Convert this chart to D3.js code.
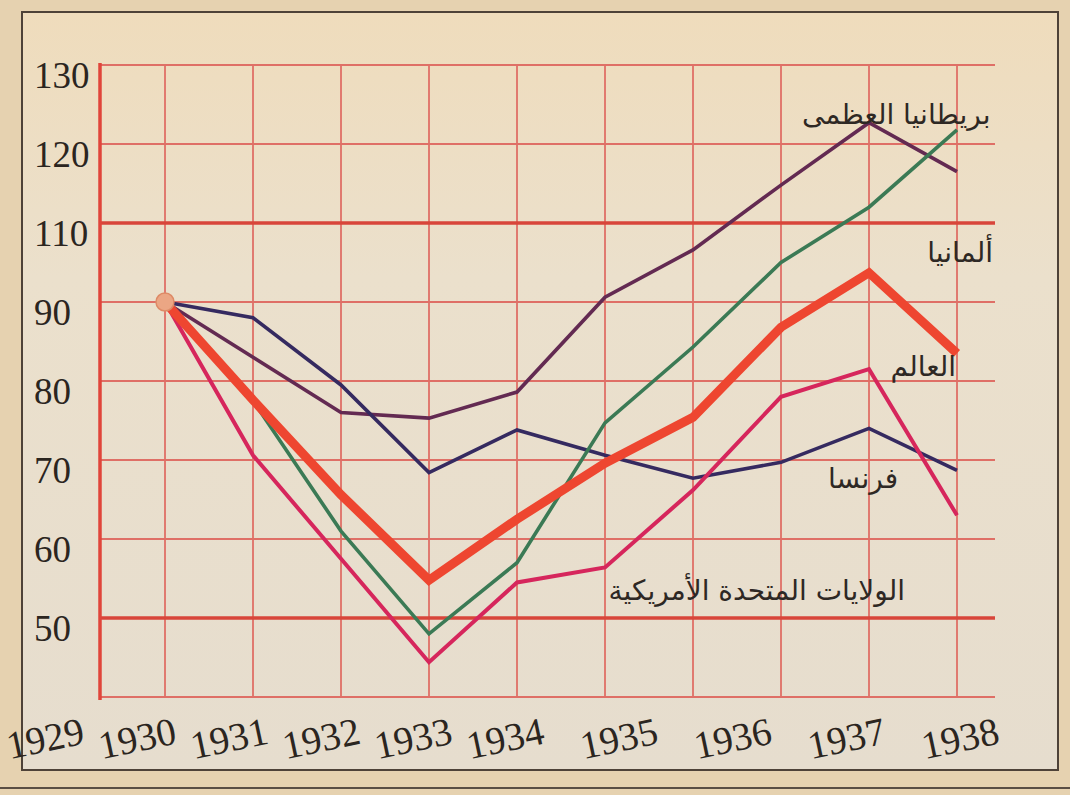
<!DOCTYPE html>
<html>
<head>
<meta charset="utf-8">
<script src="https://cdn.jsdelivr.net/npm/d3@7"></script>
<style>
  html, body { margin: 0; padding: 0; background: #d9c3a0; }
  svg { display: block; }
</style>
</head>
<body>
<div id="chart"></div>
<script>
// industrial production index, 1929 = 100
var years = [1929, 1930, 1931, 1932, 1933, 1934, 1935, 1936, 1937, 1938];
var greatBritain = [100, 93, 86, 85.3, 88.6, 100.6, 106.6, 114.8, 122.7, 116.5];
var france = [100, 98, 89.5, 78.4, 83.8, 80.6, 77.7, 79.7, 84, 78.7];
var germany = [100, 87.5, 71, 58, 67, 84.7, 94.3, 105, 112, 121.8];
var world = [100, 87.6, 75.6, 64.8, 72.5, 79.6, 85.4, 96.8, 103.7, 93.5];
var usa = [100, 80.6, 67.5, 54.4, 64.5, 66.4, 76.2, 88, 91.5, 73];

// y gridlines and the labels printed next to them (the book skips "100")
var gridValues = [130, 120, 110, 100, 90, 80, 70, 60];
var gridLabels = ['130', '120', '110', '90', '80', '70', '60', '50'];
var thickValues = [110, 60];

var seriesNames = ['بريطانيا العظمى', 'فرنسا', 'ألمانيا', 'الولايات المتحدة الأمريكية', 'العالم'];

var width = 1070, height = 795;

var svg = d3.select('#chart').append('svg')
    .attr('width', width)
    .attr('height', height);

// paper
var grad = svg.append('defs').append('linearGradient')
    .attr('id', 'paper').attr('x1', 0).attr('y1', 0).attr('x2', 0).attr('y2', 1);
grad.append('stop').attr('offset', '0%').attr('stop-color', '#efdcbc');
grad.append('stop').attr('offset', '35%').attr('stop-color', '#ebe0cc');
grad.append('stop').attr('offset', '100%').attr('stop-color', '#e6ddce');

svg.append('rect').attr('width', width).attr('height', height).attr('fill', '#e6d2b0');
svg.append('rect')
    .attr('x', 22).attr('y', 12).attr('width', 1036).attr('height', 758)
    .attr('fill', 'url(#paper)')
    .attr('stroke', '#4e4238').attr('stroke-width', 2);
svg.append('line')
    .attr('x1', 0).attr('x2', width).attr('y1', 788).attr('y2', 788)
    .attr('stroke', '#5a4e44').attr('stroke-width', 2);

// scales
var x = d3.scaleLinear().domain([1929, 1938]).range([165, 957]);
var y = d3.scaleLinear().domain([50, 130]).range([697, 65]);
var plotLeft = 100, plotRight = 995;

// tick labels under the axis are spread unevenly in the print
var xLabel = d3.scaleLinear().domain([1929, 1934, 1938]).range([45, 505, 960]);

var grid = svg.append('g');

grid.selectAll('.vgrid')
    .data(years)
  .enter().append('line')
    .attr('class', 'vgrid')
    .attr('x1', function(d) { return x(d); })
    .attr('x2', function(d) { return x(d); })
    .attr('y1', y(130))
    .attr('y2', y(50))
    .attr('stroke', '#df6f66')
    .attr('stroke-width', 1.8);

grid.selectAll('.hgrid')
    .data(gridValues.concat([50]))
  .enter().append('line')
    .attr('class', 'hgrid')
    .attr('x1', plotLeft)
    .attr('x2', plotRight)
    .attr('y1', function(d) { return y(d); })
    .attr('y2', function(d) { return y(d); })
    .attr('stroke', function(d) { return thickValues.indexOf(d) >= 0 ? '#d8453a' : '#df6f66'; })
    .attr('stroke-width', function(d) { return thickValues.indexOf(d) >= 0 ? 3.5 : 1.8; });

// left axis
grid.append('line')
    .attr('x1', plotLeft).attr('x2', plotLeft)
    .attr('y1', y(130) - 2).attr('y2', y(50) + 3)
    .attr('stroke', '#e0453a')
    .attr('stroke-width', 3.5);

// y labels
svg.append('g').selectAll('text')
    .data(gridValues)
  .enter().append('text')
    .attr('x', 34)
    .attr('y', function(d) { return y(d) + 10; })
    .attr('dominant-baseline', 'central')
    .attr('font-family', 'Liberation Serif, serif')
    .attr('font-size', 37)
    .attr('fill', '#2b2520')
    .text(function(d, i) { return gridLabels[i]; });

// x labels
svg.append('g').selectAll('text')
    .data(years)
  .enter().append('text')
    .attr('transform', function(d) { return 'translate(' + xLabel(d) + ',738) rotate(-12)'; })
    .attr('text-anchor', 'middle')
    .attr('dominant-baseline', 'central')
    .attr('font-family', 'Liberation Serif, serif')
    .attr('font-size', 39)
    .attr('fill', '#2b2520')
    .text(function(d) { return d; });

// lines
var line = d3.line()
    .x(function(d, i) { return x(years[i]); })
    .y(function(d) { return y(d); });

var series = [
  { values: greatBritain, color: '#632a52', width: 3.6 },
  { values: france, color: '#352a60', width: 3.6 },
  { values: usa, color: '#d6265c', width: 4 },
  { values: germany, color: '#3b7a55', width: 3.6 },
  { values: world, color: '#ee4630', width: 9 }
];

svg.append('g').selectAll('path')
    .data(series)
  .enter().append('path')
    .attr('d', function(d) { return line(d.values); })
    .attr('fill', 'none')
    .attr('stroke', function(d) { return d.color; })
    .attr('stroke-width', function(d) { return d.width; })
    .attr('stroke-linejoin', 'miter');

// starting point
svg.append('circle')
    .attr('cx', x(years[0]))
    .attr('cy', y(world[0]))
    .attr('r', 9)
    .attr('fill', '#eba684')
    .attr('stroke', '#de8a66')
    .attr('stroke-width', 1.5);

// series names, placed in chart units
var nameYear = [1938.38, 1937.33, 1938.41, 1937.41, 1937.99];
var nameValue = [123.7, 77.7, 106.3, 63.5, 91.8];

svg.append('g').selectAll('text')
    .data(seriesNames)
  .enter().append('text')
    .attr('x', function(d, i) { return x(nameYear[i]); })
    .attr('y', function(d, i) { return y(nameValue[i]); })
    .attr('text-anchor', 'end')
    .attr('dominant-baseline', 'central')
    .attr('font-family', 'DejaVu Sans, sans-serif')
    .attr('font-size', 28)
    .attr('fill', '#2e2824')
    .text(function(d) { return d; });
</script>
</body>
</html>
